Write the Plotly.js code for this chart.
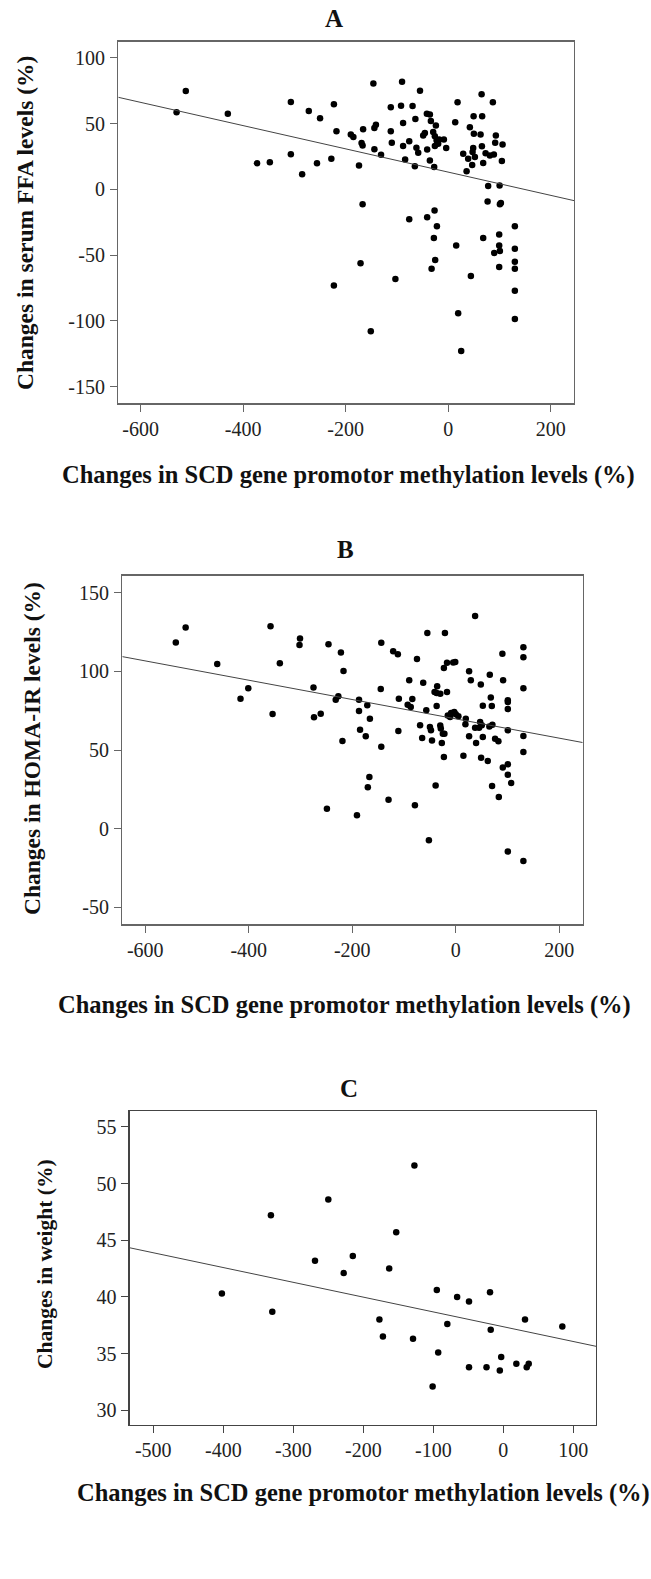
<!DOCTYPE html>
<html><head><meta charset="utf-8">
<script src="https://cdn.plot.ly/plotly-3.0.1.min.js"></script>
<style>html,body{margin:0;padding:0;background:#fff;}#chart{width:651px;height:1579px;}</style>
</head><body><div id="chart"></div>
<script>
// Panel A: SCD methylation change vs serum FFA change
const A_x = [-530,-512,-430,-373,-348,-307,-307,-285,-272,-256,-250,-228,-223,-218,-223,-190,-185,-166,-169,-167,-174,-167,-171,-146,-144,-141,-144,-131,-151,-112,-112,-110,-103,-90,-92,-88,-88,-76,-84,-69.5,-76,-55,-64,-62,-58.5,-65,-41.6,-35.7,-33.8,-24,-48.8,-45.5,-41,-29.3,-26,-22.6,-17.6,-26,-19.5,-8.4,-3.9,-35.7,-27.3,-41,-26.6,-22,-27.9,-25.4,-32.4,18.3,13.7,15.6,19.5,25.4,44.3,49.6,66.3,65.2,87.2,42.3,50.1,63.2,29.3,39,48.8,52.1,47.6,35.9,46.8,65.8,73,81.4,89.2,68.3,93,91.7,106.1,104.8,78,100.3,76.9,100.9,102.8,68.3,99.5,99.5,100.9,89.8,99.5,130.1,130.1,130.1,130.1,130.1,130.1];
const A_y = [58.5,74.7,57.5,19.8,20.5,66.3,26.6,11.4,59.5,19.8,54,23.2,64.6,44.1,-73,41.6,39.7,45.6,35.2,33.4,18.2,-11.4,-56.2,80.5,46.6,49.1,30.4,26.3,-107.9,62.3,44.1,35.5,-68.1,81.8,63.6,50.4,32.9,36.5,22.6,63.3,-22.8,75,53.4,31.7,27.9,17.5,57.5,56.8,51.9,48.6,41,42.8,30.2,43.5,40.3,37.2,37.8,32.9,34.7,37.8,31.4,22,17,-21.3,-16,-28.1,-37,-53.7,-60.3,66.1,50.9,-42.6,-94.2,-122.9,-65.9,55.5,55.5,72.2,66.1,47.1,42.3,41.6,27.1,23.3,31.4,24.5,28.3,13.7,18.5,32.7,27.4,25.8,26.4,20,41,35.5,34,21.5,2.5,3,-9.3,-11.4,-10.4,-37,-34.4,-42.6,-46.9,-48.4,-59,-28.1,-45.1,-55,-60.3,-77,-98.6];
const A_fit = {intercept: 13.1, slope: -0.0883};
const A_xticks = [-600,-400,-200,0,200];
const A_yticks = [100,50,0,-50,-100,-150];

// Panel B: SCD methylation change vs HOMA-IR change
const B_x = [-541,-522,-461,-416,-401,-358,-354,-340,-301,-302,-275,-274,-261,-246,-249,-222,-217,-232,-227,-219,-187,-187,-185,-174,-171,-166,-167,-170,-191,-144,-145,-144,-130,-121,-112,-110,-111,-90,-93,-87,-84,-75,-79,-63,-57,-69,-65,-55,-21,-50,-48,-46,-52,-39,-41,-36,-37,-30,-17,-37,-30,-29,-25,-22,-27,-23,-23,-17,-5,-1,-15.5,-9,-3,0,5,-11,14.7,19.3,18.6,25.7,29,37.3,25.7,39.2,37.3,48.3,47,50.2,45,52.2,52.2,48.9,61.8,65.7,67.6,69.6,64.9,70.7,70.1,75.9,82.3,83.1,90,91.4,90.8,100.5,100.5,100.5,100.5,100.5,100.5,106.9,100.5,130.6,130.6,130.6,130.6,130.6,130.6];
const B_y = [118.4,127.8,104.6,82.6,89.2,128.6,72.9,105.1,120.8,116.7,89.8,70.8,73.1,117.2,12.7,111.9,100.2,82,84.1,55.7,82,74.8,62.9,58.7,78.4,69.9,32.8,26.3,8.6,118.2,88.7,52.1,18.4,112.7,110.8,82.6,62,94.3,78.8,77.3,82.4,107.8,14.8,92.8,75.2,65.7,57.6,124.3,124.3,64.6,62.5,56.1,-7.4,27.5,86.8,90.5,86.2,85.8,86.8,77.9,65.5,63.6,60.4,60.4,54.4,45.5,102.1,105.5,105.7,105.9,72,73.5,74.1,72.7,71.4,70.9,46.4,69.9,66.3,100,94.3,135.2,58.7,54.4,64.2,91.7,67.8,65.7,64.2,78.2,58.2,45.1,43,97.9,83.3,77.9,65,66.1,27.1,57.2,55.5,20.1,111.2,94.3,38.8,40.9,81.6,80.5,76,62.5,34.3,29,-14.6,115.3,108.9,89.2,58.9,48.7,-20.6];
const B_fit = {intercept: 69.8, slope: -0.0614};
const B_xticks = [-600,-400,-200,0,200];
const B_yticks = [150,100,50,0,-50];

// Panel C: SCD methylation change vs weight change
const C_x = [-402,-332,-330,-269,-250,-127,-153,-215,-228,-163,-95,-66,-49,-19,-177,-172,-129,-80,-93,-101,-49,-24,-18,-3,-5,18.6,33.4,36.3,31,84.3];
const C_y = [40.3,47.2,38.7,43.2,48.6,51.6,45.7,43.6,42.1,42.5,40.6,40,39.6,40.4,38,36.5,36.3,37.6,35.1,32.1,33.8,33.8,37.1,34.7,33.5,34.1,33.8,34.1,38,37.4];
const C_fit = {intercept: 37.37, slope: -0.01305};
const C_xticks = [-500,-400,-300,-200,-100,0,100];
const C_yticks = [55,50,45,40,35,30];

const panelTitles = ['A','B','C'];
const xTitle = 'Changes in SCD gene promotor methylation levels (%)';
const yTitles = ['Changes in serum FFA levels (%)','Changes in HOMA-IR levels (%)','Changes in weight (%)'];

const W = 651, H = 1579;
const FONT = 'Liberation Serif, Times New Roman, serif';
const frames = [
  {l:118.3, r:574, t:41.7, b:403.3, xr:[-643.7,245.5], yr:[-162.6,112.2], lc:'#666'},
  {l:122.3, r:582.7, t:575.7, b:924.3, xr:[-644.4,245.2], yr:[-60.8,160.8], lc:'#666'},
  {l:129.7, r:596, t:1111, b:1425, xr:[-533.7,132.4], yr:[28.7,56.4], lc:'#444'}
];
const datasets = [[A_x,A_y,A_fit,A_xticks,A_yticks],[B_x,B_y,B_fit,B_xticks,B_yticks],[C_x,C_y,C_fit,C_xticks,C_yticks]];
const lbl = v => String(v).replace('\u2212','-');

const traces = [];
const layout = {width:W, height:H, margin:{l:0,r:0,t:0,b:0}, showlegend:false,
  paper_bgcolor:'#fff', plot_bgcolor:'#fff', annotations:[]};

frames.forEach((f,i)=>{
  const n = i===0 ? '' : String(i+1);
  const [xs, ys, fit, xt, yt] = datasets[i];
  traces.push({x:xs, y:ys, type:'scatter', mode:'markers', xaxis:'x'+n, yaxis:'y'+n,
    marker:{color:'#000', size:6.5}, hoverinfo:'skip'});
  const lx = f.xr;
  traces.push({x:lx, y:lx.map(v=>fit.intercept+fit.slope*v), type:'scatter', mode:'lines',
    xaxis:'x'+n, yaxis:'y'+n, line:{color:'#444', width:1}, hoverinfo:'skip'});
  const axCommon = {showline:true, mirror:true, linecolor:f.lc, linewidth:1.3, ticks:'outside',
    ticklen:7, tickwidth:1, tickcolor:f.lc, showgrid:false, zeroline:false,
    tickfont:{family:FONT, size:20, color:'#222'}};
  layout['xaxis'+n] = Object.assign({}, axCommon, {domain:[f.l/W, f.r/W], range:f.xr,
    tickmode:'array', tickvals:xt, ticktext:xt.map(lbl), anchor:'y'+n});
  layout['yaxis'+n] = Object.assign({}, axCommon, {domain:[1-f.b/H, 1-f.t/H], range:f.yr,
    tickmode:'array', tickvals:yt, ticktext:yt.map(lbl), anchor:'x'+n, ticklabelstandoff:1});
});

const ann = (text, x, y, size, rot) => ({text, x:x/W, y:1-y/H, xref:'paper', yref:'paper',
  showarrow:false, xanchor:'center', yanchor:'middle', textangle:rot||0,
  font:{family:FONT, size, color:'#111', weight:'bold'}});
layout.annotations.push(ann(panelTitles[0], 334, 18, 25));
layout.annotations.push(ann(panelTitles[1], 346, 550, 25));
layout.annotations.push(ann(panelTitles[2], 349, 1088, 25));
layout.annotations.push(ann(xTitle, 348, 475, 24.5));
layout.annotations.push(ann(xTitle, 344, 1005, 24.5));
layout.annotations.push(ann(xTitle, 364, 1493, 24.5));
layout.annotations.push(ann(yTitles[0], 25, 223, 23.5, -90));
layout.annotations.push(ann(yTitles[1], 32, 749, 23.5, -90));
layout.annotations.push(ann(yTitles[2], 45, 1264, 21.5, -90));

Plotly.newPlot('chart', traces, layout, {staticPlot:true});
</script></body></html>
